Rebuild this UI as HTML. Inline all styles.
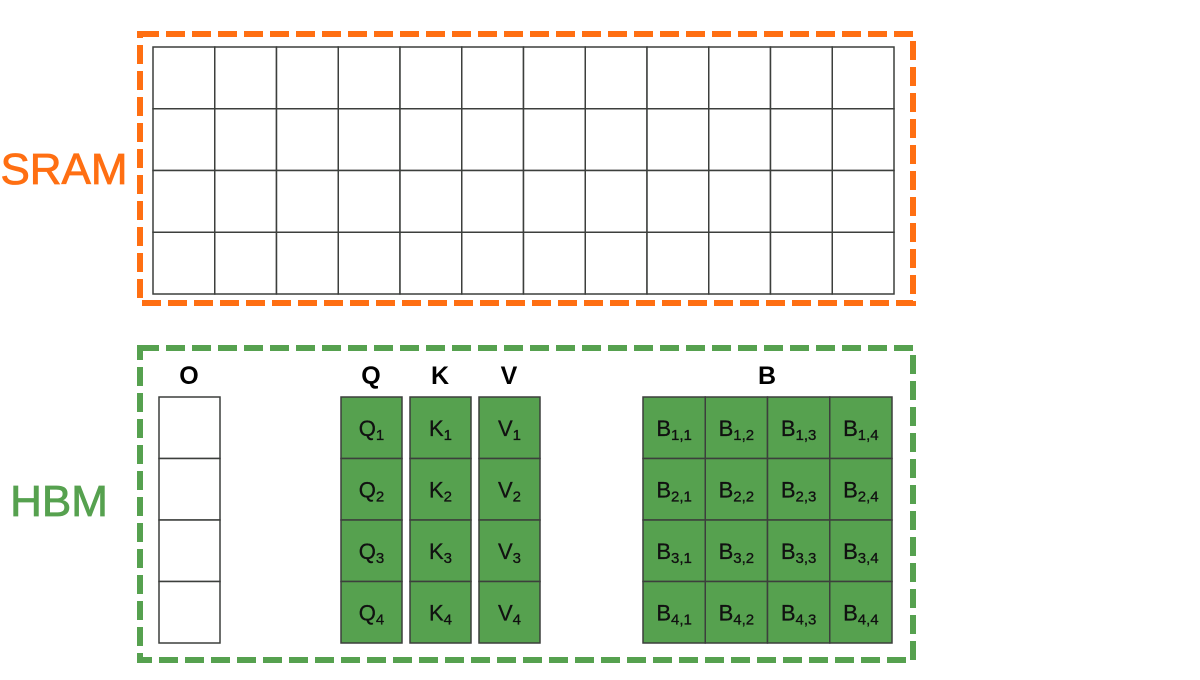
<!DOCTYPE html>
<html><head><meta charset="utf-8"><style>
body{margin:0;background:#fff;}
svg text{font-family:"Liberation Sans",sans-serif;}
</style></head><body>
<svg width="1200" height="675" viewBox="0 0 1200 675">
<text x="64" y="184" font-size="44" fill="#ff6f12" text-anchor="middle" stroke="#ff6f12" stroke-width="0.8">SRAM</text>
<text x="59" y="516" font-size="44" fill="#56a14f" text-anchor="middle" stroke="#56a14f" stroke-width="0.8">HBM</text>
<rect x="140" y="34" width="773" height="269" fill="none" stroke="#ff6f12" stroke-width="6" stroke-dasharray="19,7"/>
<rect x="140" y="348" width="773" height="312" fill="none" stroke="#56a14f" stroke-width="6" stroke-dasharray="19,7"/>
<g id="sram"></g>
<g id="hbm"></g>
</svg>
<script>
const NS="http://www.w3.org/2000/svg";
const sramCols=12, sramRows=4;
const columns=[["O",159,""],["Q",341,"Q"],["K",410,"K"],["V",479,"V"]];
const bCols=4, bRows=4;
function mk(tag,attrs,parent){const e=document.createElementNS(NS,tag);for(const k in attrs)e.setAttribute(k,attrs[k]);parent.appendChild(e);return e;}
const sram=document.getElementById('sram');
const cw=(894-153)/sramCols, ch=(294-47)/sramRows;
for(let r=0;r<sramRows;r++)for(let c=0;c<sramCols;c++){
 const e=mk('rect',{x:153+c*cw,y:47+r*ch,width:cw,height:ch,fill:'#fff',stroke:'#3c3f3c','stroke-width':1.5},sram);
 
 
}
const hbm=document.getElementById('hbm');
const bh=(643-397)/4;
function cell(x,y,w,fill,label,sub){
 const e=mk('rect',{x:x,y:y,width:w,height:bh,fill:fill,stroke:'#3c3f3c','stroke-width':1.5},hbm);
 
 
 if(label){
  const t=mk('text',{x:x+w/2,y:y+bh/2+8,'font-size':22,'text-anchor':'middle',fill:'#111',stroke:'#111','stroke-width':0.3},hbm);
  
  
  t.appendChild(document.createTextNode(label));
  const s=mk('tspan',{'font-size':15,dy:4},t);s.textContent=sub;
 }
}
columns.forEach(([name,x,lab])=>{
 const t=mk('text',{x:x+30,y:384,'font-size':25,'font-weight':'bold','text-anchor':'middle'},hbm);
 
 
 t.textContent=name;
 for(let r=0;r<4;r++)cell(x,397+r*bh,61,lab?'#56a14f':'#fff',lab,String(r+1));
});
const bt=mk('text',{x:767,y:384,'font-size':25,'font-weight':'bold','text-anchor':'middle'},hbm);


bt.textContent='B';
const bw=(892-643)/bCols;
for(let r=0;r<bRows;r++)for(let c=0;c<bCols;c++)cell(643+c*bw,397+r*bh,bw,'#56a14f','B',(r+1)+','+(c+1));
</script>
</body></html>
